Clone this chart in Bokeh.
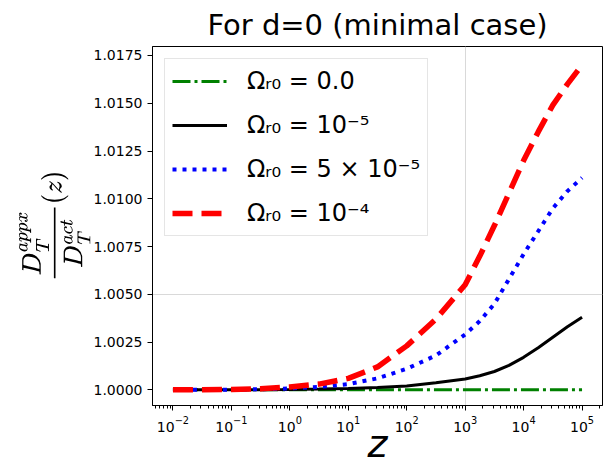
from bokeh.plotting import figure
from bokeh.models import FixedTicker, NumeralTickFormatter, Legend, LegendItem, LogTickFormatter
from bokeh.embed import file_html
from bokeh.resources import INLINE

# ---- data ----
z = [0.01, 0.0316, 0.1, 0.316, 1.0, 3.16, 10.0, 31.6, 100.0, 316.0, 1000.0,
     1778.0, 3162.0, 5623.0, 10000.0, 17783.0, 31623.0, 56234.0, 100000.0]
omega_0 = [1.0, 1.0, 1.0, 1.0, 1.0, 1.0, 1.0, 1.0, 1.0, 1.0, 1.0,
           1.0, 1.0, 1.0, 1.0, 1.0, 1.0, 1.0, 1.0]
omega_1e5 = [1.00000, 1.00000, 1.00000, 1.00001, 1.00002, 1.00004, 1.00007, 1.00012,
             1.00020, 1.00037, 1.00057, 1.00074, 1.00096, 1.00128, 1.00170, 1.00220,
             1.00275, 1.00330, 1.00380]
omega_5e5 = [1.00000, 1.00000, 1.00001, 1.00003, 1.00007, 1.00015, 1.00030, 1.00060,
             1.00110, 1.00180, 1.00290, 1.00360, 1.00450, 1.00580, 1.00710, 1.00830,
             1.00950, 1.01040, 1.01110]
omega_1e4 = [1.00000, 1.00001, 1.00002, 1.00006, 1.00015, 1.00030, 1.00060, 1.00120,
             1.00230, 1.00370, 1.00550, 1.00700, 1.00860, 1.01030, 1.01200, 1.01350,
             1.01490, 1.01600, 1.01700]

labels = ["Ωᵣ₀ = 0.0", "Ωᵣ₀ = 10⁻⁵", "Ωᵣ₀ = 5 × 10⁻⁵", "Ωᵣ₀ = 10⁻⁴"]
x_ticks = [1e-2, 1e-1, 1e0, 1e1, 1e2, 1e3, 1e4, 1e5]
x_minor_ticks = [m * d for d in [1e-3, 1e-2, 1e-1, 1e0, 1e1, 1e2, 1e3, 1e4, 1e5]
                 for m in [2, 3, 4, 5, 6, 7, 8, 9]]
y_ticks = [1.0, 1.0025, 1.005, 1.0075, 1.01, 1.0125, 1.015, 1.0175]
x_grid = [1e3]
y_grid = [1.005]

FONT = "DejaVu Sans"

p = figure(width=605, height=468, x_axis_type="log",
           x_range=(10 ** -2.35, 10 ** 5.35), y_range=(0.99918, 1.01797),
           output_backend="svg", toolbar_location=None,
           min_border_left=152, min_border_right=3, min_border_top=43,
           min_border_bottom=63)

p.title.text = "For d=0 (minimal case)"
p.title.align = "center"
p.title.text_font = FONT
p.title.text_font_size = "29px"
p.title.text_font_style = "normal"
p.title.text_color = "black"

r0 = p.line(z, omega_0, line_color="green", line_width=3, line_dash="18 4 3 4")
r1 = p.line(z, omega_1e5, line_color="black", line_width=3)
r2 = p.line(z, omega_5e5, line_color="blue", line_width=4, line_dash="4 6")
r3 = p.line(z, omega_1e4, line_color="red", line_width=5.5, line_dash="20 9")

legend = Legend(items=[LegendItem(label=labels[0], renderers=[r0]),
                       LegendItem(label=labels[1], renderers=[r1]),
                       LegendItem(label=labels[2], renderers=[r2]),
                       LegendItem(label=labels[3], renderers=[r3])],
                location="top_left")
legend.margin = 12
legend.padding = 7
legend.spacing = 14
legend.glyph_width = 55
legend.glyph_height = 30
legend.label_height = 30
legend.label_standoff = 20
legend.label_text_font = FONT
legend.label_text_font_size = "24px"
legend.label_text_color = "black"
legend.border_line_color = "#cccccc"
legend.border_line_width = 1
legend.background_fill_alpha = 0.8
p.add_layout(legend)

p.xaxis.ticker = FixedTicker(ticks=x_ticks, minor_ticks=x_minor_ticks)
p.xaxis.formatter = LogTickFormatter()
p.yaxis.ticker = FixedTicker(ticks=y_ticks)
p.yaxis.formatter = NumeralTickFormatter(format="0.0000")

for ax in [p.xaxis[0], p.yaxis[0]]:
    ax.major_label_text_font = FONT
    ax.major_label_text_font_size = "14px"
    ax.major_label_text_color = "black"
    ax.major_tick_in = 0
    ax.major_tick_out = 5
    ax.minor_tick_in = 0
    ax.minor_tick_out = 3
    ax.major_tick_line_color = "black"
    ax.minor_tick_line_color = "black"
    ax.axis_line_color = "black"
    ax.axis_label_text_font = FONT
    ax.axis_label_text_color = "black"

p.yaxis.minor_tick_line_color = None
p.xaxis.axis_label = "z"
p.xaxis.axis_label_text_font_size = "38px"
p.xaxis.axis_label_text_font_style = "italic"
p.xaxis.axis_label_standoff = -13
p.yaxis.axis_label = r"$$\frac{D_T^{appx}}{D_T^{act}}(z)$$"
p.yaxis.axis_label_text_font_size = "21px"
p.yaxis.axis_label_standoff = 0

p.xgrid.ticker = FixedTicker(ticks=x_grid)
p.ygrid.ticker = FixedTicker(ticks=y_grid)
p.grid.grid_line_color = "#d9d9d9"
p.grid.grid_line_width = 1

p.outline_line_color = "black"
p.outline_line_width = 1
p.outline_line_alpha = 1
p.background_fill_color = "white"
p.border_fill_color = "white"

open("out.html", "w").write(file_html(p, INLINE))
